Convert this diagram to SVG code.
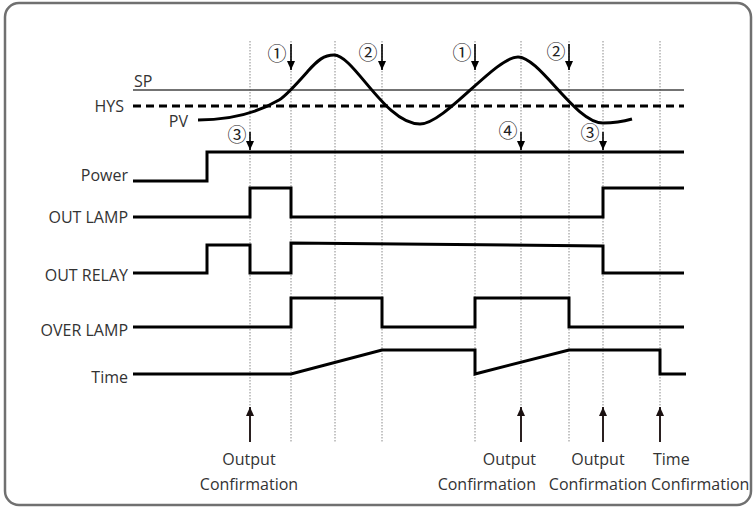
<svg xmlns="http://www.w3.org/2000/svg" width="756" height="508" viewBox="0 0 756 508">
<style>
.lbl{font-family:"Open Sans","Noto Sans","Liberation Sans",sans-serif;font-size:16px;fill:#333}
.num{font-family:"Noto Sans CJK KR","DejaVu Sans",sans-serif;font-size:19px;fill:#222}
.grid{stroke:#8a8a8a;stroke-width:1;stroke-dasharray:1.5 1.5;fill:none}
.wave{stroke:#000;stroke-width:3;fill:none;stroke-linejoin:miter}
.arr{stroke:#000;stroke-width:1.6;fill:none}
.uarr{stroke:#2a2020;stroke-width:2;fill:none}
</style>
<defs>
<marker id="ah" viewBox="0 0 9 8" refX="9" refY="4" markerWidth="9" markerHeight="8" markerUnits="userSpaceOnUse" orient="auto">
<path d="M0,0 L9,4 L0,8 Z" fill="#000"/>
</marker>
<marker id="uh" viewBox="0 0 9 8" refX="9" refY="4" markerWidth="9" markerHeight="8" markerUnits="userSpaceOnUse" orient="auto">
<path d="M0,0 L9,4 L0,8 Z" fill="#1a1010"/>
</marker>
</defs>
<rect x="5" y="3" width="746" height="502" rx="14" ry="14" fill="#fff" stroke="#707070" stroke-width="2.5"/>
<g id="grid">
<line class="grid" x1="250" y1="41" x2="250" y2="442"/>
<line class="grid" x1="291" y1="41" x2="291" y2="442"/>
<line class="grid" x1="335" y1="41" x2="335" y2="442"/>
<line class="grid" x1="382" y1="41" x2="382" y2="442"/>
<line class="grid" x1="475" y1="41" x2="475" y2="442"/>
<line class="grid" x1="521" y1="41" x2="521" y2="442"/>
<line class="grid" x1="569" y1="41" x2="569" y2="442"/>
<line class="grid" x1="603" y1="41" x2="603" y2="442"/>
<line class="grid" x1="660" y1="41" x2="660" y2="442"/>
</g>
<g id="sp">
<line x1="133" y1="90" x2="684" y2="90" stroke="#444" stroke-width="1.3"/>
<text class="lbl" x="134" y="87">SP</text>
</g>
<g id="hys">
<line x1="133" y1="106" x2="684" y2="106" stroke="#000" stroke-width="3" stroke-dasharray="8 5"/>
<text class="lbl" x="124" y="112" text-anchor="end">HYS</text>
</g>
<g id="pv">
<path class="wave" d="M198,120 C238,120 262,110 279,100 C287,95 300,80 308,71 C318,60 324,55 334,55 C354,55 385,124 420,124 C445,124 495,57 518,57 C540,57 575,123 603,123 C615,123 625,121 632,119"/>
<text class="lbl" x="188" y="127" text-anchor="end">PV</text>
</g>
<g id="power">
<path class="wave" d="M133,181 H207 V152 H684"/>
<text class="lbl" x="128" y="181" text-anchor="end">Power</text>
</g>
<g id="out-lamp">
<path class="wave" d="M133,217 H250 V188 H291 V217 H603 V188 H684"/>
<text class="lbl" x="128" y="223" text-anchor="end">OUT LAMP</text>
</g>
<g id="out-relay">
<path class="wave" d="M133,273 H207 V245 H250 V273 H291 V243 L603,246 V273 H684"/>
<text class="lbl" x="128" y="281" text-anchor="end">OUT RELAY</text>
</g>
<g id="over-lamp">
<path class="wave" d="M133,327 H291 V298 H382 V327 H475 V298 H569 V327 H684"/>
<text class="lbl" x="128" y="336" text-anchor="end">OVER LAMP</text>
</g>
<g id="time">
<path class="wave" d="M133,374 H291 L382,350 H475 V374 L569,350 H660 V374 H686"/>
<text class="lbl" x="128" y="383" text-anchor="end">Time</text>
</g>
<g id="connectors">
<line class="arr" x1="291" y1="44" x2="291" y2="70" marker-end="url(#ah)"/>
<line class="arr" x1="382" y1="44" x2="382" y2="70" marker-end="url(#ah)"/>
<line class="arr" x1="475" y1="44" x2="475" y2="70" marker-end="url(#ah)"/>
<line class="arr" x1="569" y1="44" x2="569" y2="70" marker-end="url(#ah)"/>
<line class="arr" x1="250" y1="132" x2="250" y2="150" marker-end="url(#ah)"/>
<line class="arr" x1="521" y1="132" x2="521" y2="150" marker-end="url(#ah)"/>
<line class="arr" x1="603" y1="132" x2="603" y2="150" marker-end="url(#ah)"/>
<line class="uarr" x1="250" y1="442" x2="250" y2="407" marker-end="url(#uh)"/>
<line class="uarr" x1="521" y1="442" x2="521" y2="407" marker-end="url(#uh)"/>
<line class="uarr" x1="603" y1="442" x2="603" y2="407" marker-end="url(#uh)"/>
<line class="uarr" x1="660" y1="442" x2="660" y2="407" marker-end="url(#uh)"/>
</g>
<g id="markers">
<text class="num" x="277" y="61" text-anchor="middle">①</text>
<text class="num" x="368" y="60" text-anchor="middle">②</text>
<text class="num" x="462" y="60" text-anchor="middle">①</text>
<text class="num" x="556" y="59" text-anchor="middle">②</text>
<text class="num" x="237" y="142" text-anchor="middle">③</text>
<text class="num" x="508" y="138" text-anchor="middle">④</text>
<text class="num" x="590" y="140" text-anchor="middle">③</text>
</g>
<g id="captions">
<text class="lbl" x="249" y="465" text-anchor="middle">Output</text>
<text class="lbl" x="249" y="490" text-anchor="middle">Confirmation</text>
<text class="lbl" x="536" y="465" text-anchor="end">Output</text>
<text class="lbl" x="536" y="490" text-anchor="end">Confirmation</text>
<text class="lbl" x="598" y="465" text-anchor="middle">Output</text>
<text class="lbl" x="598" y="490" text-anchor="middle">Confirmation</text>
<text class="lbl" x="653" y="465">Time</text>
<text class="lbl" x="651" y="490">Confirmation</text>
</g>
</svg>
